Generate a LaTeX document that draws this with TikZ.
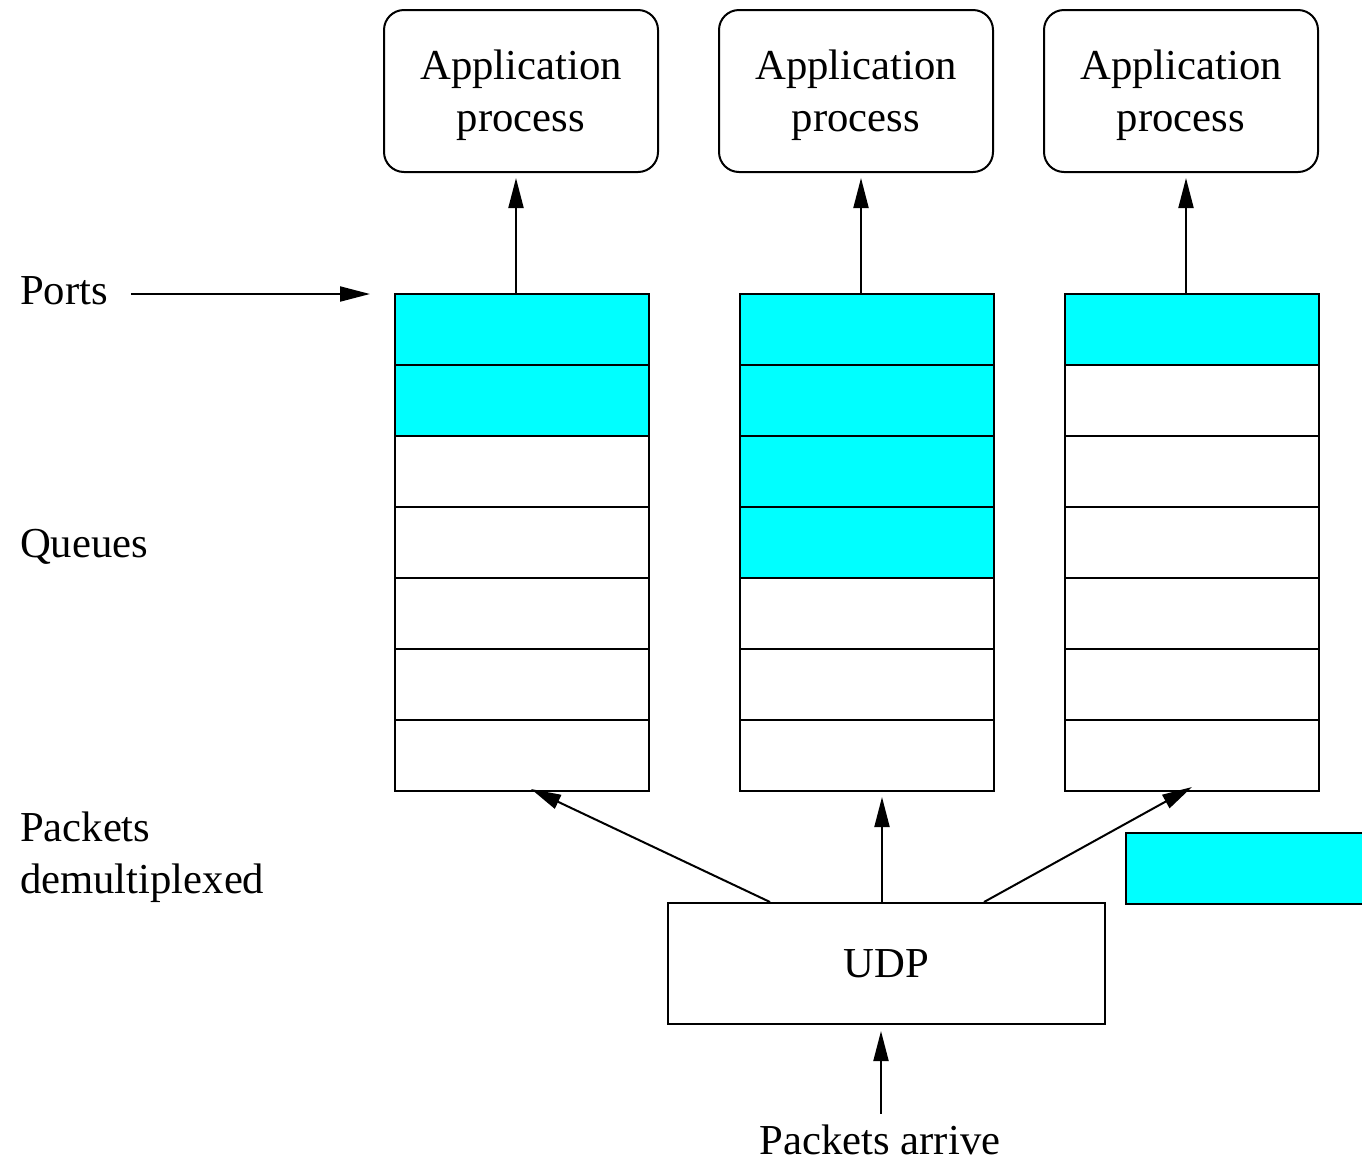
\documentclass[tikz,border=0pt]{standalone}
\usepackage{fontspec}
\setmainfont{Liberation Serif}
\usetikzlibrary{arrows.meta}

\definecolor{slotcyan}{RGB}{0,255,255}
\tikzset{
  appbox/.style={draw, rounded corners=20pt, minimum width=274pt, minimum height=162pt, inner sep=0pt},
  cell/.style={draw, anchor=north west, minimum width=254pt, minimum height=71pt, inner sep=0pt},
  udpbox/.style={draw, minimum width=437pt, minimum height=121pt, inner sep=0pt},
  lbl/.style={anchor=west, align=left, inner sep=0pt},
}

\begin{document}
\begin{tikzpicture}[x=1pt, y=-1pt, line width=2pt, line join=miter,
    font=\fontsize{42.7}{52}\selectfont, >={Triangle[length=30pt, width=15pt]}]
  \useasboundingbox (0,0) rectangle (1362,1163);
  % --- application processes ---
  \foreach \a/\x in {1/521, 2/856, 3/1181} {
    \node[appbox] (app\a) at (\x,91) {};
    \node[align=center, inner sep=0pt] (apptxt\a) at ([yshift=-4pt]app\a.center) {Application\\process};
  }
  % --- queues (cyan = full slot) ---
  \foreach \c/\x/\n in {1/394/2, 2/739/4, 3/1064/1}
    \foreach \r in {1,...,7} {
      \ifnum\r>\n \def\fc{white}\else\def\fc{slotcyan}\fi
      \node[cell, fill=\fc] (q\c-\r) at (\x, 293+71*\r-71) {};
    }
  % --- UDP and the packet waiting ---
  \node[udpbox] (udp) at (886.5,963.5) {UDP};
  \node[draw, fill=slotcyan, anchor=north west, minimum width=250pt, minimum height=71pt, inner sep=0pt] (pkt) at (1125,832) {};
  % --- labels on the left ---
  \node[lbl] (ports) at (19,291) {Ports};
  \node[lbl] (queues) at (19,547) {Queues};
  \node[lbl] (demux) at (19,857) {Packets\\demultiplexed};
  \node[inner sep=0pt] (arrive) at (880,1140) {Packets arrive};
  % --- arrows ---
  \draw[->, shorten <=22pt, shorten >=24pt] (ports.east |- 0,294) -- (q1-1.north west |- 0,294);
  \draw[->, shorten >=5pt] (q1-1.north -| 516,0) -- (app1.south -| 516,0);
  \draw[->, shorten >=5pt] (q2-1.north -| 861,0) -- (app2.south -| 861,0);
  \draw[->, shorten >=5pt] (q3-1.north -| 1186,0) -- (app3.south -| 1186,0);
  \draw[->] (udp.north -| 770,0) -- ([xshift=9pt, yshift=3pt]q1-7.south);
  \draw[->, shorten >=5pt] (udp.north -| 882,0) -- (q2-7.south -| 882,0);
  \draw[->] (udp.north -| 984,0) -- ([yshift=5pt]q3-7.south);
  \draw[->, shorten >=6pt] ([yshift=10pt]arrive.north -| 881,0) -- (udp.south -| 881,0);
\end{tikzpicture}
\end{document}
